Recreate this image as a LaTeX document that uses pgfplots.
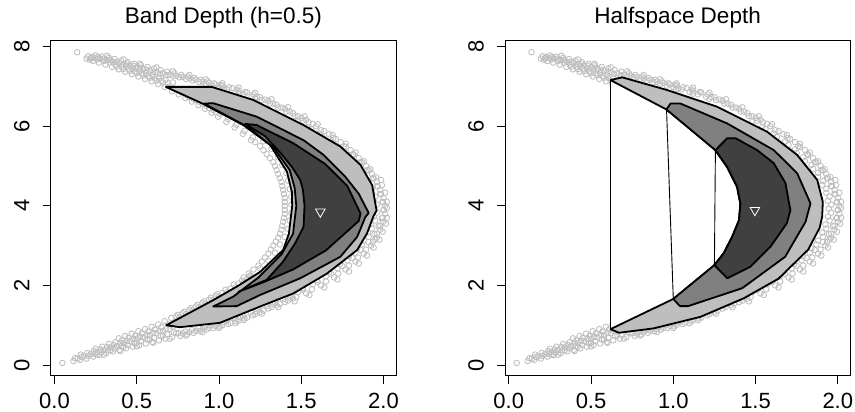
\documentclass[border=0pt]{standalone}
\usepackage{fontspec}
\setmainfont{Liberation Sans}
\usepackage{pgfplots}
\pgfplotsset{compat=1.18}
\usepackage{pgfplotstable}
\definecolor{ptgray}{RGB}{190,190,190}
\definecolor{lightg}{RGB}{190,190,190}
\definecolor{midg}{RGB}{128,128,128}
\definecolor{darkg}{RGB}{64,64,64}

\pgfplotstableread{
x y
0.138 7.86
0.195 7.70
0.205 7.76
0.215 7.67
0.225 7.74
0.235 7.64
0.245 7.72
0.250 7.78
0.260 7.68
0.270 7.60
0.280 7.70
0.290 7.75
0.300 7.64
0.310 7.55
0.320 7.66
0.330 7.72
0.335 7.60
0.350 7.49
0.355 7.62
0.365 7.69
0.370 7.55
0.390 7.43
0.395 7.58
0.405 7.65
0.410 7.50
0.430 7.37
0.435 7.52
0.445 7.61
0.450 7.45
0.440 7.57
0.470 7.31
0.475 7.46
0.485 7.57
0.490 7.38
0.480 7.52
0.510 7.25
0.515 7.40
0.525 7.53
0.530 7.33
0.520 7.47
0.550 7.19
0.555 7.34
0.565 7.49
0.570 7.26
0.560 7.42
0.590 7.13
0.595 7.28
0.605 7.45
0.610 7.20
0.600 7.37
0.630 7.06
0.635 7.22
0.645 7.41
0.650 7.14
0.640 7.32
0.670 6.99
0.675 7.17
0.685 7.37
0.690 7.08
0.680 7.28
0.715 6.88
0.725 6.95
0.720 7.27
0.730 7.33
0.720 7.10
0.755 6.80
0.765 6.87
0.760 7.23
0.770 7.29
0.795 6.71
0.805 6.78
0.800 7.19
0.810 7.25
0.835 6.62
0.845 6.69
0.840 7.15
0.850 7.21
0.875 6.53
0.885 6.60
0.880 7.11
0.890 7.17
0.915 6.44
0.925 6.51
0.920 7.07
0.930 7.13
0.955 6.34
0.965 6.41
0.960 7.02
0.970 7.08
0.995 6.24
1.005 6.31
1.000 6.98
1.010 7.04
1.045 6.11
1.055 6.18
1.050 6.92
1.060 6.98
1.095 5.97
1.105 6.04
1.100 6.86
1.110 6.92
1.145 5.81
1.155 5.88
1.150 6.80
1.160 6.86
1.195 5.65
1.205 5.72
1.200 6.74
1.210 6.80
1.25 6.73
1.26 6.66
1.30 6.64
1.31 6.57
1.35 6.54
1.36 6.47
1.40 6.44
1.41 6.37
1.45 6.33
1.46 6.26
1.50 6.21
1.51 6.14
1.59 6.00
1.54 5.98
1.57 6.06
1.67 5.80
1.61 5.82
1.64 5.88
1.74 5.60
1.68 5.62
1.71 5.68
1.80 5.40
1.74 5.42
1.77 5.48
1.85 5.20
1.79 5.22
1.82 5.28
1.895 5.00
1.84 5.03
1.87 5.09
1.93 4.80
1.88 4.83
1.91 4.89
1.96 4.60
1.91 4.62
1.94 4.69
1.98 4.40
1.93 4.43
1.965 4.49
2.00 4.20
1.95 4.23
1.985 4.29
2.01 4.00
1.96 4.03
1.995 4.09
2.01 3.80
1.96 3.83
2.00 3.89
2.00 3.60
1.95 3.63
1.99 3.69
1.98 3.40
1.93 3.43
1.97 3.49
1.96 3.20
1.91 3.22
1.945 3.29
1.925 3.00
1.87 3.03
1.91 3.09
1.88 2.80
1.83 2.83
1.86 2.89
1.83 2.60
1.78 2.63
1.81 2.69
1.77 2.40
1.72 2.43
1.75 2.49
1.70 2.20
1.65 2.23
1.68 2.29
1.62 2.00
1.57 2.03
1.60 2.09
1.53 1.80
1.48 1.83
1.51 1.89
1.45 1.67
1.44 1.74
1.40 1.58
1.39 1.65
1.35 1.50
1.34 1.57
1.30 1.42
1.29 1.49
1.25 1.33
1.24 1.40
1.205 1.25
1.195 1.32
1.200 2.18
1.190 2.25
1.155 1.17
1.145 1.24
1.150 2.06
1.140 2.12
1.105 1.10
1.095 1.17
1.100 1.95
1.090 2.02
1.055 1.03
1.045 1.10
1.050 1.83
1.040 1.89
1.005 0.97
0.995 1.04
1.000 1.72
0.990 1.78
0.965 0.93
0.955 1.00
0.960 1.63
0.950 1.69
0.925 0.89
0.915 0.96
0.920 1.54
0.910 1.60
0.885 0.85
0.875 0.92
0.880 1.45
0.870 1.51
0.845 0.81
0.835 0.88
0.840 1.37
0.830 1.43
0.805 0.77
0.795 0.84
0.800 1.28
0.790 1.34
0.765 0.73
0.755 0.80
0.760 1.20
0.750 1.26
0.715 0.70
0.725 0.82
0.720 0.96
0.730 1.08
0.710 1.18
0.675 0.66
0.685 0.77
0.680 0.90
0.690 1.02
0.670 1.10
0.635 0.62
0.645 0.73
0.640 0.85
0.650 0.95
0.630 1.02
0.595 0.58
0.605 0.68
0.600 0.80
0.610 0.89
0.590 0.96
0.555 0.54
0.565 0.64
0.560 0.75
0.570 0.84
0.550 0.90
0.515 0.50
0.525 0.60
0.520 0.70
0.530 0.79
0.510 0.85
0.475 0.46
0.485 0.55
0.480 0.65
0.490 0.73
0.470 0.79
0.435 0.42
0.445 0.51
0.440 0.60
0.450 0.68
0.430 0.73
0.395 0.38
0.405 0.47
0.400 0.55
0.410 0.62
0.390 0.67
0.355 0.34
0.365 0.42
0.360 0.50
0.370 0.57
0.315 0.30
0.325 0.37
0.320 0.45
0.330 0.53
0.275 0.25
0.285 0.32
0.280 0.39
0.290 0.46
0.235 0.21
0.245 0.28
0.240 0.35
0.250 0.41
0.195 0.16
0.205 0.23
0.200 0.30
0.155 0.13
0.165 0.20
0.160 0.26
0.115 0.10
0.125 0.17
0.048 0.05
1.22 5.60
1.27 5.62
1.27 5.40
1.32 5.43
1.31 5.20
1.36 5.22
1.34 5.00
1.385 5.03
1.36 4.80
1.41 4.82
1.38 4.60
1.42 4.63
1.39 4.40
1.43 4.42
1.40 4.20
1.44 4.23
1.40 4.00
1.44 4.03
1.40 3.80
1.44 3.82
1.39 3.60
1.43 3.63
1.38 3.40
1.42 3.42
1.36 3.20
1.40 3.22
1.33 3.00
1.37 3.03
1.30 2.80
1.34 2.82
1.26 2.60
1.30 2.62
1.21 2.40
1.25 2.43
1.15 2.20
1.19 2.23
1.545 6.10
1.48 6.13
1.62 5.90
1.56 5.93
1.695 5.70
1.63 5.73
1.76 5.50
1.70 5.53
1.815 5.30
1.75 5.33
1.86 5.10
1.80 5.13
1.90 4.90
1.85 4.93
1.935 4.70
1.88 4.73
1.96 4.50
1.905 4.53
1.98 4.30
1.93 4.33
1.995 4.10
1.94 4.13
2.00 3.90
1.945 3.93
1.995 3.70
1.94 3.73
1.98 3.50
1.925 3.53
1.96 3.30
1.905 3.33
1.935 3.10
1.88 3.13
1.895 2.90
1.84 2.93
1.845 2.70
1.79 2.73
1.79 2.50
1.735 2.53
1.725 2.30
1.67 2.33
1.65 2.10
1.595 2.13
1.565 1.90
1.51 1.93
2.02 4.10
2.02 3.70
1.985 4.65
1.95 3.15
1.02 7.02
1.03 6.95
1.08 6.96
1.12 6.88
1.17 6.85
1.23 6.74
1.28 6.67
1.33 6.57
1.38 6.47
1.43 6.37
1.48 6.25
1.53 6.16
1.015 6.93
1.12 6.82
1.22 6.69
0.22 7.71
0.265 7.74
0.30 7.70
0.34 7.66
0.38 7.62
0.38 7.50
0.42 7.56
0.42 7.44
0.46 7.52
0.46 7.39
0.50 7.48
0.50 7.33
0.54 7.44
0.54 7.28
0.58 7.40
0.58 7.22
0.62 7.36
0.62 7.15
0.66 7.33
0.66 7.10
0.70 7.30
0.70 7.00
0.74 7.27
0.74 6.92
0.78 7.24
0.78 6.84
0.82 7.20
0.82 6.74
0.86 7.17
0.86 6.66
0.90 7.12
0.90 6.57
0.94 7.09
0.94 6.46
0.98 7.05
0.98 6.36
0.14 0.16
0.18 0.22
0.22 0.27
0.26 0.33
0.30 0.38
0.34 0.44
0.38 0.48
0.42 0.55
0.46 0.60
0.50 0.66
0.54 0.70
0.58 0.75
0.62 0.80
0.66 0.86
0.70 0.90
0.26 0.26
0.34 0.37
0.42 0.46
0.50 0.56
0.58 0.64
0.66 0.74
0.74 0.80
0.78 0.79
0.82 0.82
0.86 0.86
0.90 0.90
0.94 0.93
0.98 0.98
0.74 1.22
0.78 1.30
0.82 1.39
0.86 1.47
0.90 1.56
0.94 1.64
0.98 1.74
1.02 1.81
1.07 1.92
1.12 2.05
1.17 2.15
1.02 1.00
1.07 1.06
1.12 1.12
1.17 1.19
1.22 1.28
1.27 1.37
1.32 1.46
1.37 1.54
1.42 1.62
1.47 1.71
1.03 1.07
1.13 1.20
1.23 1.35
1.33 1.53
1.43 1.69
1.25 5.50
1.29 5.30
1.33 5.10
1.35 4.90
1.37 4.70
1.385 4.50
1.395 4.30
1.40 4.10
1.40 3.90
1.395 3.70
1.385 3.50
1.37 3.30
1.345 3.10
1.315 2.90
1.28 2.70
1.24 2.50
1.18 2.30
1.60 6.05
1.69 5.78
1.77 5.56
1.83 5.34
1.88 5.12
1.92 4.92
1.955 4.72
1.99 4.52
2.01 4.33
2.02 3.95
2.015 3.55
1.995 3.35
1.975 3.15
1.94 2.95
1.90 2.75
1.85 2.55
1.79 2.35
1.72 2.15
1.64 1.95
1.55 1.76
1.46 1.60
1.36 1.45
1.26 1.29
1.15 1.13
1.52 6.25
1.42 6.48
1.32 6.68
1.22 6.84
1.12 6.97
1.02 7.08
0.92 7.18
0.82 7.29
0.72 7.38
0.62 7.48
0.52 7.57
0.42 7.68
0.32 7.77
0.30 0.26
0.40 0.35
0.50 0.47
0.60 0.56
0.70 0.66
0.80 0.74
0.90 0.83
1.00 0.93
1.10 1.05
}\pts

\pgfplotsset{
  banana/.style={
    scale only axis, width=345.3pt, height=335.7pt,
    xmin=-0.023, xmax=2.076, ymin=-0.269, ymax=8.168,
    clip marker paths=true,
    xtick={0,0.5,1,1.5,2}, xticklabels={0.0,0.5,1.0,1.5,2.0},
    ytick={0,2,4,6,8}, yticklabels={0,2,4,6,8},
    tick align=outside, xtick pos=left, ytick pos=left,
    major tick length=8pt,
    every tick/.style={black, line width=0.8pt},
    axis line style={line width=0.8pt},
    /pgf/number format/assume math mode=true,
    tick label style={font=\fontsize{22}{26}\selectfont, inner sep=0pt},
    xticklabel style={anchor=base, yshift=-25pt},
    yticklabel style={rotate=90, anchor=base, yshift=13.4pt},
    title style={font=\fontsize{22.5}{27}\selectfont, anchor=base, at={(0.5,1)}, yshift=10.7pt, inner sep=0pt},
  }
}

\begin{document}
\begin{tikzpicture}
\useasboundingbox (0,0) rectangle (855pt,412pt);
\begin{axis}[banana, at={(50.7pt,36.3pt)}, anchor=south west, title={Band Depth (h=0.5)}]
\addplot[only marks, color=ptgray, mark=o, mark size=2.8pt, mark options={line width=0.85pt, draw=ptgray, fill=none}] table {\pts};
\addplot[draw=black, line width=1.8pt, line join=round, fill=lightg, no markers] coordinates {(0.677,6.99) (0.955,6.99) (1.209,6.66) (1.514,6.03) (1.738,5.49) (1.86,5.03) (1.931,4.52) (1.958,3.88) (1.94,3.75) (1.90,3.31) (1.84,2.89) (1.657,2.30) (1.453,1.80) (1.25,1.47) (1.006,1.06) (0.762,0.95) (0.68,1.0) (0.965,1.63) (1.108,1.97) (1.25,2.34) (1.39,2.89) (1.425,3.3) (1.445,4.0) (1.443,4.35) (1.413,4.86) (1.311,5.53) (1.148,6.03) (0.905,6.56)} -- cycle;
\addplot[draw=black, line width=1.8pt, line join=round, fill=midg, no markers] coordinates {(0.909,6.57) (0.965,6.58) (1.23,6.24) (1.514,5.65) (1.636,5.28) (1.768,4.73) (1.85,4.3) (1.91,3.82) (1.89,3.72) (1.84,3.22) (1.738,2.72) (1.494,2.18) (1.25,1.76) (1.108,1.48) (0.965,1.47) (1.087,1.72) (1.24,2.2) (1.38,2.78) (1.45,3.3) (1.47,4.0) (1.46,4.45) (1.43,4.9) (1.335,5.45) (1.18,5.97)} -- cycle;
\addplot[draw=black, line width=1.8pt, line join=round, fill=darkg, no markers] coordinates {(1.159,6.06) (1.23,6.03) (1.453,5.57) (1.646,5.05) (1.78,4.5) (1.86,3.81) (1.85,3.62) (1.65,2.88) (1.45,2.40) (1.27,2.08) (1.118,1.84) (1.29,2.14) (1.39,2.60) (1.463,3.06) (1.514,3.47) (1.52,4.0) (1.51,4.4) (1.494,4.65) (1.443,4.98) (1.38,5.3) (1.28,5.75)} -- cycle;
\addplot[only marks, color=white, mark=triangle, mark size=5.5pt, mark options={rotate=180, draw=white, fill=none, line width=0.8pt}] coordinates {(1.616,3.85)};
\end{axis}
\begin{axis}[banana, at={(505pt,36.3pt)}, anchor=south west, title={Halfspace Depth}]
\addplot[only marks, color=ptgray, mark=o, mark size=2.8pt, mark options={line width=0.85pt, draw=ptgray, fill=none}] table {\pts};
\addplot[draw=none, fill=white, no markers] coordinates {(0.618,0.90) (1.0,1.66) (1.25,2.51) (1.307,2.81) (1.358,3.22) (1.40,3.64) (1.408,4.06) (1.388,4.48) (1.327,4.98) (1.256,5.40) (0.959,6.42) (0.618,7.16)} -- cycle;
\addplot[draw=black, line width=1.8pt, line join=round, fill=lightg, no markers] coordinates {(0.618,7.16) (0.689,7.23) (0.963,6.91) (1.267,6.49) (1.571,5.86) (1.753,5.28) (1.875,4.65) (1.909,4.10) (1.905,3.73) (1.89,3.45) (1.82,2.90) (1.64,2.17) (1.43,1.68) (1.165,1.21) (0.88,0.92) (0.67,0.81) (0.618,0.90) (1.0,1.66) (1.25,2.51) (1.307,2.81) (1.358,3.22) (1.40,3.64) (1.408,4.06) (1.388,4.48) (1.327,4.98) (1.256,5.40) (0.959,6.42)} -- cycle;
\addplot[draw=black, line width=1.8pt, line join=round, fill=midg, no markers] coordinates {(0.959,6.42) (0.983,6.57) (1.044,6.57) (1.328,6.07) (1.611,5.40) (1.753,4.82) (1.834,4.06) (1.804,3.60) (1.68,2.72) (1.419,1.93) (1.09,1.48) (1.04,1.48) (1.0,1.66) (1.25,2.51) (1.307,2.81) (1.358,3.22) (1.40,3.64) (1.408,4.06) (1.388,4.48) (1.327,4.98) (1.256,5.40)} -- cycle;
\addplot[draw=black, line width=1.8pt, line join=round, fill=darkg, no markers] coordinates {(1.256,5.40) (1.328,5.70) (1.378,5.70) (1.51,5.40) (1.611,5.07) (1.682,4.57) (1.70,4.15) (1.712,3.89) (1.69,3.56) (1.59,2.97) (1.469,2.47) (1.328,2.18) (1.25,2.51) (1.307,2.81) (1.358,3.22) (1.40,3.64) (1.408,4.06) (1.388,4.48) (1.327,4.98)} -- cycle;
\addplot[draw=black, line width=0.9pt, no markers] coordinates {(0.618,0.90) (0.618,7.16)};
\addplot[draw=black, line width=0.9pt, no markers] coordinates {(1.0,1.66) (0.959,6.42)};
\addplot[draw=black, line width=0.9pt, no markers] coordinates {(1.25,2.51) (1.256,5.40)};
\addplot[only marks, color=white, mark=triangle, mark size=5.5pt, mark options={rotate=180, draw=white, fill=none, line width=0.8pt}] coordinates {(1.496,3.89)};
\end{axis}
\end{tikzpicture}
\end{document}
